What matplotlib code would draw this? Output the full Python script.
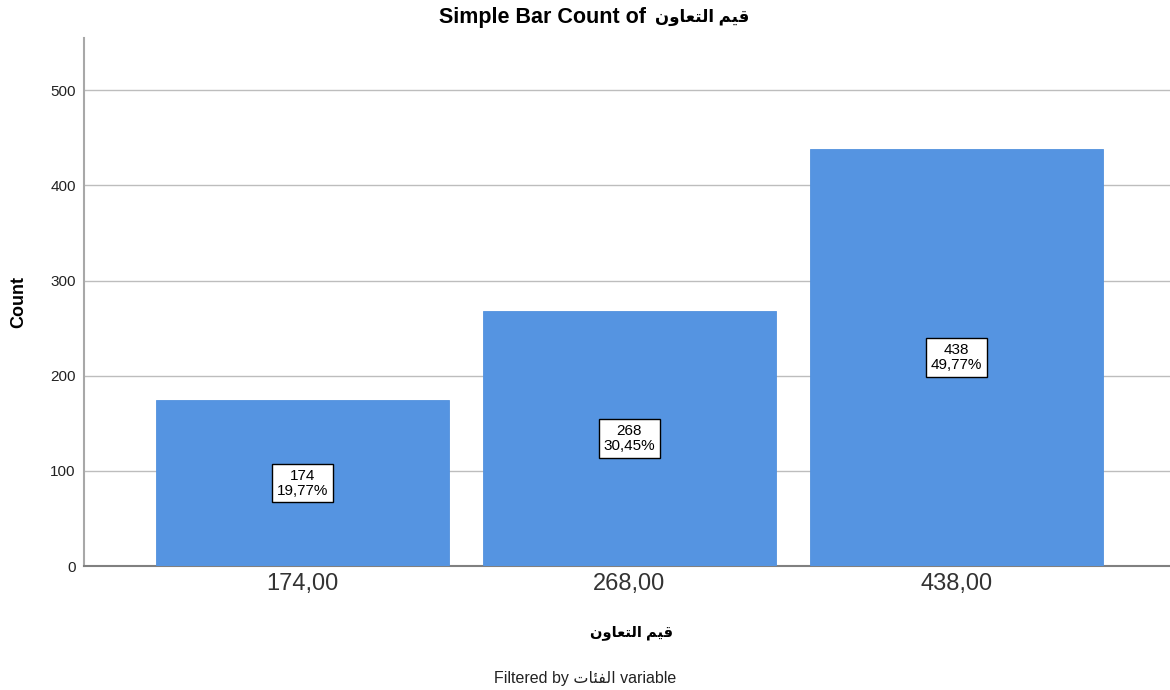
import matplotlib
matplotlib.use("Agg")
import matplotlib.pyplot as plt

# ---- data ----
categories = ["174,00", "268,00", "438,00"]
counts = [174, 268, 438]
percents = [19.77, 30.45, 49.77]
y_ticks = [0, 100, 200, 300, 400, 500]

# Arabic text in presentation forms (visual order) so it renders shaped
var_name = "\uFEE5\uFEED\uFE8E\uFECC\uFE98\uFEDF\uFE8D \uFEE2\uFEF4\uFED7"   # قيم التعاون
filter_name = "\uFE95\uFE8E\uFE8C\uFED4\uFEDF\uFE8D"                          # الفئات

FAM = ["Liberation Sans", "DejaVu Sans"]
plt.rcParams["font.family"] = FAM

fig = plt.figure(figsize=(11.7, 6.9), dpi=100)
ax = fig.add_axes([84 / 1170, 1 - 566 / 690, 1086 / 1170, (566 - 38) / 690])

x = list(range(len(categories)))
ax.bar(x, counts, width=0.896, color="#5594E1", edgecolor="#5291DE",
       linewidth=0.6, zorder=3)

for xi, c, p in zip(x, counts, percents):
    label = f"{c}\n{p:.2f}%".replace(".", ",")
    ax.text(xi, c / 2, label, ha="center", va="center", fontsize=11,
            linespacing=1.05, zorder=5,
            bbox=dict(boxstyle="square,pad=0.32", facecolor="white",
                      edgecolor="black", linewidth=1.0))

ax.set_xlim(-0.668, 2.653)
ax.set_ylim(0, 555)
ax.set_yticks(y_ticks)
ax.set_yticklabels([str(t) for t in y_ticks], fontsize=11, color="#222222")
ax.set_xticks(x)
ax.set_xticklabels(categories, fontsize=17, color="#333333")
ax.tick_params(axis="y", length=0, pad=6)
ax.tick_params(axis="x", length=0, pad=5)

ax.yaxis.grid(True, color="#BDBDBD", linewidth=1.0, zorder=0)
ax.set_axisbelow(True)
for s in ["top", "right"]:
    ax.spines[s].set_visible(False)
ax.spines["left"].set_color("#A8A8A8")
ax.spines["left"].set_linewidth(1.5)
ax.spines["bottom"].set_color("#808080")
ax.spines["bottom"].set_linewidth(1.5)

ax.set_ylabel("Count", fontsize=13, fontweight="bold")
ax.yaxis.set_label_coords(-0.0525, 0.5)

# title: Latin part + Arabic part
fig.text(646 / 1170, 1 - 18 / 690, "Simple Bar Count of", ha="right",
         va="center", fontsize=15.5, fontweight="bold")
fig.text(655 / 1170, 1 - 17 / 690, var_name, ha="left", va="center",
         fontsize=12, fontweight="bold")
fig.text(631 / 1170, 1 - 633 / 690, var_name, ha="center", va="center",
         fontsize=10.5, fontweight="bold")
fig.text(585 / 1170, 1 - 678 / 690, "Filtered by " + filter_name + " variable",
         ha="center", va="center", fontsize=11.5, color="#222222")

fig.savefig("out.png", dpi=100, facecolor="white")
